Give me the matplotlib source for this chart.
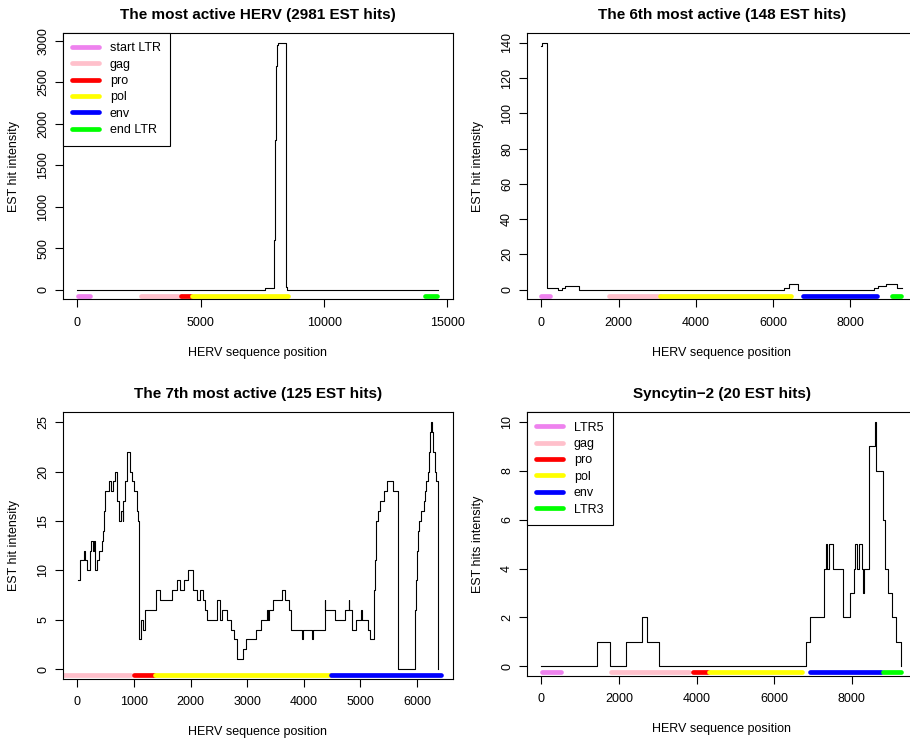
import matplotlib.pyplot as plt
from matplotlib.lines import Line2D
from matplotlib.ticker import MultipleLocator

plt.rcParams['font.family'] = ['Liberation Sans', 'DejaVu Sans']

W, H = 910, 740

gene_colors = ['violet', 'pink', 'red', 'yellow', 'blue', '#00FF00']

# The most active HERV
pos1 = [0, 7600, 7960, 8000, 8040, 8080, 8130, 8460, 8500, 14620]
hits1 = [0, 20, 600, 1800, 2700, 2950, 2978, 30, 0, 0]
len1 = 14640
starts1 = [26, 2580, 4215, 4645, None, 14105]
ends1 = [513, 4200, 4600, 8535, None, 14595]

# 6th most active
pos2 = [0, 15, 150, 440, 545, 620, 980, 6285, 6415, 6660, 8620, 8725, 8940, 9222, 9330]
hits2 = [138, 140, 1, 0, 1, 2, 0, 1, 3, 0, 1, 2, 3, 1, 1]
len2 = 9356
starts2 = [0, 1761, None, 3081, 6779, 9084]
ends2 = [224, 3080, None, 6475, 8685, 9325]

# 7th most active
pos3 = [18, 48, 118, 136, 165, 224, 242, 283, 301, 313, 342, 383, 431, 460, 470,
        480, 490, 566, 590, 625, 655, 696, 708, 737, 772, 802, 814, 843, 873, 884,
        932, 961, 1002, 1049, 1073, 1090, 1120, 1167, 1197, 1385, 1462, 1668, 1768,
        1815, 1886, 1963, 2051, 2110, 2169, 2211, 2246, 2287, 2464, 2523, 2552,
        2641, 2717, 2759, 2818, 2924, 2983, 3154, 3242, 3348, 3365, 3380, 3448,
        3613, 3660, 3731, 3778, 3967, 3979, 4144, 4156, 4368, 4380, 4468, 4556,
        4733, 4792, 4800, 4851, 4928, 5010, 5022, 5134, 5175, 5234, 5250, 5262,
        5272, 5281, 5311, 5352, 5411, 5470, 5570, 5664, 5959, 5975, 5990, 6005,
        6020, 6030, 6071, 6118, 6140, 6165, 6189, 6218, 6236, 6254, 6265, 6283,
        6313, 6342, 6377]
hits3 = [9, 11, 12, 11, 10, 12, 13, 12, 13, 10, 11, 12, 13, 14, 16,
         17, 18, 19, 18, 19, 20, 19, 17, 15, 16, 15, 17, 19, 20, 22,
         20, 19, 18, 16, 15, 3, 5, 4, 6, 8, 7, 8, 9,
         8, 9, 10, 8, 7, 8, 7, 6, 5, 7, 5, 6,
         5, 4, 3, 1, 2, 3, 4, 5, 6, 5, 6, 7,
         8, 7, 6, 4, 3, 4, 3, 4, 7, 6, 6, 5,
         6, 7, 6, 4, 5, 6, 5, 4, 3, 5, 8, 11,
         14, 15, 16, 17, 18, 19, 18, 0, 3, 6, 9, 12,
         14, 15, 16, 17, 18, 19, 20, 22, 24, 25, 24, 22,
         20, 19, 0]
len3 = 6383
starts3 = [None, -400, 1005, 1377, 4482, None]
ends3 = [None, 950, 1360, 4460, 6426, None]

# Syncytin-2
pos4 = [0, 1435, 1780, 2180, 2581, 2710, 3030, 6812, 6924, 7290, 7337, 7372,
        7420, 7525, 7767, 7957, 8057, 8100, 8134, 8186, 8270, 8297, 8320, 8440,
        8600, 8630, 8640, 8820, 8870, 8940, 9040, 9135, 9285]
hits4 = [0, 1, 0, 1, 2, 1, 0, 1, 2, 4, 5, 4,
         5, 4, 2, 3, 4, 5, 4, 5, 4, 3, 4, 9,
         10, 9, 8, 6, 4, 3, 2, 1, 0]
len4 = 9315
starts4 = [20, 1800, 3905, 4315, 6935, 8805]
ends4 = [510, 3800, 4300, 6730, 8760, 9285]

labels1 = ['start LTR', 'gag', 'pro', 'pol', 'env', 'end LTR']
labels4 = ['LTR5', 'gag', 'pro', 'pol', 'env', 'LTR3']

fig = plt.figure(figsize=(W / 100, H / 100), dpi=100)


def panel(box, pos, hits, length, starts, ends, title, ylabel,
          xstep, ystep, labels=None):
    l, t, r, b = box
    ax = fig.add_axes([l / W, 1 - b / H, (r - l) / W, (b - t) / H])
    peak = max(hits)
    ax.plot(pos, hits, drawstyle='steps-post', color='black', lw=0.8)
    ybar = -peak / 40
    for s, e, c in zip(starts, ends, gene_colors):
        if s is None:
            continue
        ax.plot([s, e], [ybar, ybar], color=c, lw=3.4, solid_capstyle='round')
    ax.set_xlim(-0.04 * length, 1.04 * length)
    ax.set_ylim(-0.04 * peak, 1.04 * peak)
    ax.xaxis.set_major_locator(MultipleLocator(xstep))
    ax.yaxis.set_major_locator(MultipleLocator(ystep))
    ax.tick_params(length=5.5, width=0.8, labelsize=9)
    ax.tick_params(axis='x', pad=7)
    ax.tick_params(axis='y', labelrotation=90, pad=4.5)
    for lab in ax.get_yticklabels():
        lab.set_va('center')
    for sp in ax.spines.values():
        sp.set_linewidth(0.8)
    ax.set_title(title, fontsize=11, fontweight='bold', pad=10)
    ax.set_xlabel('HERV sequence position', fontsize=9, labelpad=13)
    ax.set_ylabel(ylabel, fontsize=9, labelpad=12)
    if labels:
        handles = [Line2D([], [], color=c, lw=3.4, solid_capstyle='round')
                   for c in gene_colors]
        leg = ax.legend(handles, labels, loc='upper left', fontsize=9,
                        fancybox=False, edgecolor='black', framealpha=1,
                        borderaxespad=0, handlelength=2.1, handletextpad=0.9,
                        labelspacing=0.35, borderpad=0.75)
        leg.get_frame().set_linewidth(0.8)
    return ax


panel((63, 33, 453, 299.5), pos1, hits1, len1, starts1, ends1,
      'The most active HERV (2981 EST hits)', 'EST hit intensity',
      5000, 500, labels1)
panel((527, 33, 917, 299.5), pos2, hits2, len2, starts2, ends2,
      'The 6th most active (148 EST hits)', 'EST hit intensity', 2000, 20)
panel((63, 412.3, 453, 679), pos3, hits3, len3, starts3, ends3,
      'The 7th most active (125 EST hits)', 'EST hit intensity', 1000, 5)
panel((527, 412.3, 917, 676), pos4, hits4, len4, starts4, ends4,
      'Syncytin\u22122 (20 EST hits)', 'EST hits intensity', 2000, 2, labels4)

fig.savefig('out.png', dpi=100)
